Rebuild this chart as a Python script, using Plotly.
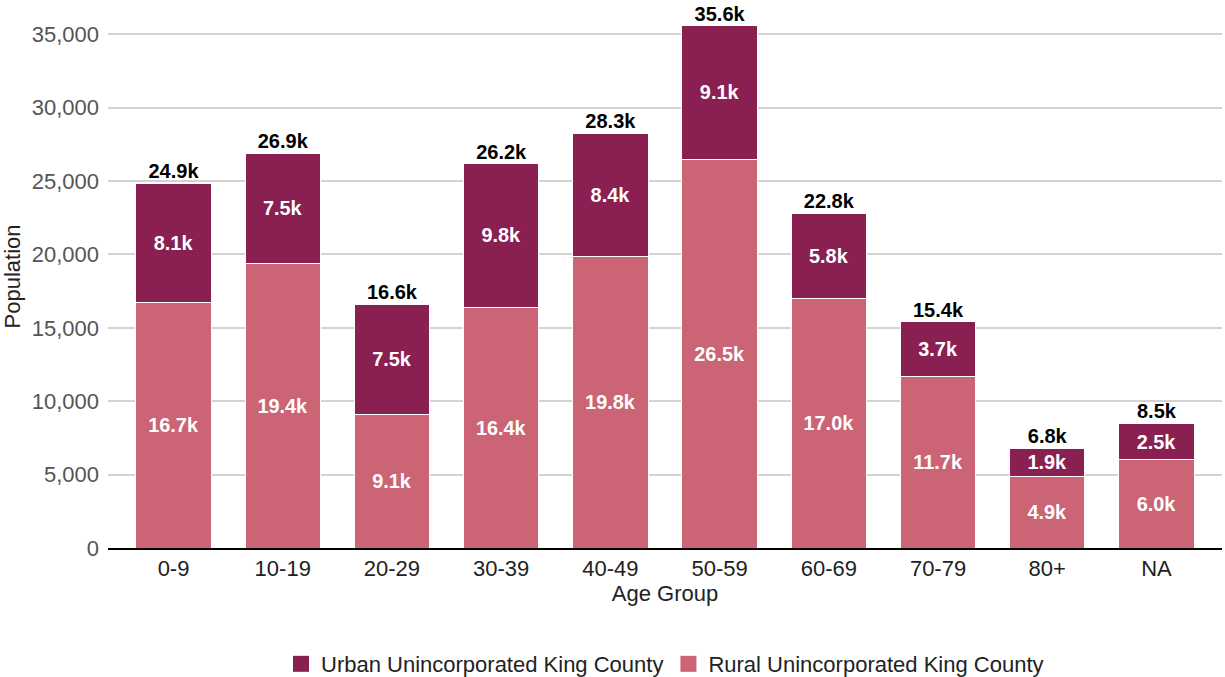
import plotly.graph_objects as go

age_groups = ["0-9", "10-19", "20-29", "30-39", "40-49", "50-59", "60-69", "70-79", "80+", "NA"]
rural = [16720, 19400, 9100, 16400, 19830, 26500, 17000, 11700, 4900, 6000]
urban = [8140, 7500, 7500, 9800, 8430, 9100, 5800, 3700, 1900, 2500]
totals = [r + u for r, u in zip(rural, urban)]

def k(v):
    return f"{v/1000:.1f}k"

URBAN_C = "#8a1f51"
RURAL_C = "#cb6474"
FONT = "Liberation Sans"

fig = go.Figure()
fig.add_trace(go.Bar(
    x=age_groups, y=rural, name="Rural Unincorporated King County",
    marker=dict(color=RURAL_C, line=dict(color="white", width=1)),
    text=[k(v) for v in rural], textposition="inside", insidetextanchor="middle",
    textfont=dict(family=FONT, size=20, color="white", weight="bold"),
    showlegend=False,
))
fig.add_trace(go.Bar(
    x=age_groups, y=urban, name="Urban Unincorporated King County",
    marker=dict(color=URBAN_C, line=dict(color="white", width=1)),
    text=[k(v) for v in urban], textposition="inside", insidetextanchor="middle",
    textfont=dict(family=FONT, size=20, color="white", weight="bold"),
    showlegend=False,
))
fig.add_trace(go.Scatter(
    x=age_groups, y=totals, mode="text", text=[k(v) for v in totals],
    textposition="top center", showlegend=False, hoverinfo="skip",
    textfont=dict(family=FONT, size=20, color="black", weight="bold"),
))
# legend entries (big square swatches)
for name, col in [("Urban Unincorporated King County", URBAN_C),
                  ("Rural Unincorporated King County", RURAL_C)]:
    fig.add_trace(go.Scatter(
        x=[None], y=[None], mode="markers", name=name,
        marker=dict(symbol="square", size=16, color=col),
    ))

fig.update_layout(
    width=1225, height=677,
    barmode="stack", bargap=0.31,
    plot_bgcolor="white", paper_bgcolor="white",
    margin=dict(l=108, r=3, t=5, b=129, autoexpand=False),
    font=dict(family=FONT, color="#222"),
    uniformtext=dict(mode="show", minsize=10),
    legend=dict(orientation="h", x=0.5, xanchor="center", y=-0.175, yanchor="top",
                traceorder="normal",
                font=dict(family=FONT, size=22, color="#222")),
    xaxis=dict(title=dict(text="Age Group", font=dict(size=22, color="#222"), standoff=2),
               tickfont=dict(size=22, color="#222"), range=[-0.6, 9.6],
               showline=True, linecolor="black", linewidth=2, ticks="", showgrid=False,
               automargin=False),
    yaxis=dict(title=dict(text="Population", font=dict(size=22, color="#222"), standoff=14),
               tickfont=dict(size=22, color="#555"), range=[0, 37000],
               dtick=5000, tickformat=",d", gridcolor="#d3d3d3", gridwidth=2,
               zeroline=False, ticks="", ticklabelstandoff=8, automargin=False),
)

fig.write_html("out.html", config={"displayModeBar": False},
               post_script="document.body.style.margin='0px';")
